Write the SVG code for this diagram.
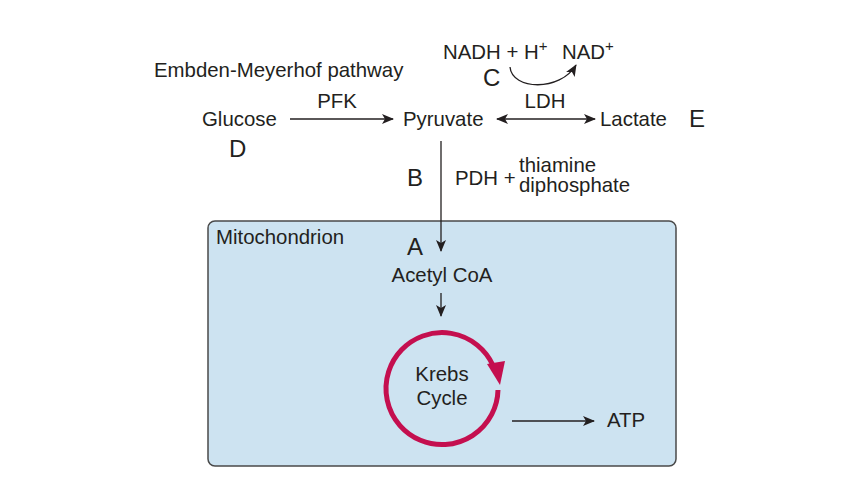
<svg xmlns="http://www.w3.org/2000/svg" width="853" height="480" viewBox="0 0 853 480">
<style>
text{font-family:"Liberation Sans",Arial,sans-serif;font-size:20.4px;fill:#231f20}
.big{font-size:24px}
.sup{font-size:15px}
.ln{stroke:#231f20;stroke-width:1.3;fill:none}
</style>
<defs>
<marker id="ah" markerUnits="userSpaceOnUse" markerWidth="12" markerHeight="10" refX="11" refY="5" orient="auto-start-reverse" viewBox="0 0 12 10">
<path d="M0,0 L12,5 L0,10 L3,5 Z" fill="#231f20"/>
</marker>
</defs>
<rect width="853" height="480" fill="#fff"/>
<g id="mitochondrion">
<rect x="208" y="221" width="468" height="245" rx="7" fill="#cde3f1" stroke="#4a4a4a" stroke-width="1.5"/>
<text x="216" y="244">Mitochondrion</text>
</g>
<g id="pathway-label"><text x="154" y="77">Embden-Meyerhof pathway</text></g>
<g id="glucose"><text x="202" y="126">Glucose</text><text class="big" x="229" y="157">D</text></g>
<g id="pyruvate"><text x="403" y="126">Pyruvate</text></g>
<g id="lactate"><text x="600" y="126">Lactate</text><text class="big" x="689" y="127">E</text></g>
<g id="nadh"><text x="443" y="59">NADH + H<tspan class="sup" dy="-8">+</tspan></text><text class="big" x="483" y="86">C</text></g>
<g id="nad"><text x="562" y="59">NAD<tspan class="sup" dy="-8">+</tspan></text></g>
<g id="pdh"><text class="big" x="407" y="186">B</text><text x="455" y="185">PDH +</text><text x="519" y="172">thiamine</text><text x="519" y="192">diphosphate</text></g>
<g id="acetylcoa"><text class="big" x="407" y="255">A</text><text x="442" y="282" text-anchor="middle">Acetyl CoA</text></g>
<g id="krebs">
<path d="M498,390 A56,56 0 1 1 492.8,365" fill="none" stroke="#c40f4f" stroke-width="5"/>
<polygon points="487,364 505,361 500,385" fill="#c40f4f"/>
<text x="442" y="381" text-anchor="middle">Krebs</text>
<text x="442" y="405" text-anchor="middle">Cycle</text>
</g>
<g id="atp"><text x="607" y="427">ATP</text></g>
<g id="connectors">
<line class="ln" x1="290" y1="119" x2="393" y2="119" marker-end="url(#ah)"/>
<text x="337" y="108" text-anchor="middle">PFK</text>
<line class="ln" x1="497" y1="119" x2="595" y2="119" marker-start="url(#ah)" marker-end="url(#ah)"/>
<text x="545" y="108" text-anchor="middle">LDH</text>
<path class="ln" d="M510,67 C512,90 560,92 576,65" marker-end="url(#ah)"/>
<line class="ln" x1="441" y1="141" x2="441" y2="251" marker-end="url(#ah)"/>
<line class="ln" x1="441" y1="293" x2="441" y2="316" marker-end="url(#ah)"/>
<line class="ln" x1="512" y1="421" x2="594" y2="421" marker-end="url(#ah)"/>
</g>
</svg>
